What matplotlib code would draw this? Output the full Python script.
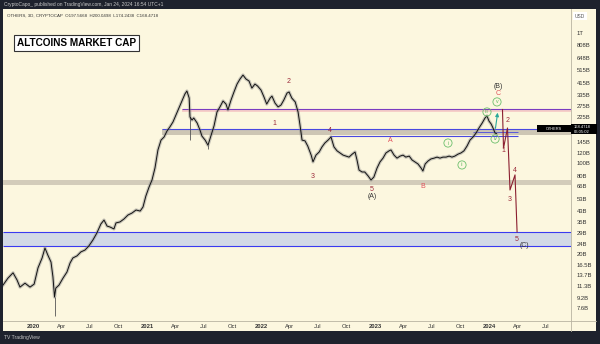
import numpy as np
import matplotlib
matplotlib.use("Agg")
import matplotlib.pyplot as plt
from matplotlib.patches import Rectangle, FancyArrowPatch

plt.rcParams["font.family"] = ["Liberation Sans", "DejaVu Sans"]

# ─── Data (market cap in billions USD, time in decimal years) ──────────
t_year = [
    2019.737, 2019.78, 2019.825, 2019.86, 2019.886, 2019.93, 2019.974, 2020.01,
    2020.044, 2020.08, 2020.105, 2020.13, 2020.158, 2020.175, 2020.189, 2020.20,
    2020.228, 2020.263, 2020.298, 2020.325, 2020.35, 2020.386, 2020.42, 2020.456,
    2020.49, 2020.526, 2020.56, 2020.596, 2020.623, 2020.65, 2020.675, 2020.71,
    2020.728, 2020.763, 2020.798, 2020.833, 2020.868, 2020.904, 2020.94, 2020.965,
    2020.99, 2021.018, 2021.044, 2021.07, 2021.096, 2021.123, 2021.15, 2021.175,
    2021.20, 2021.228, 2021.254, 2021.28, 2021.307, 2021.333, 2021.35, 2021.37,
    2021.377, 2021.395, 2021.41, 2021.44, 2021.465, 2021.482, 2021.51, 2021.535,
    2021.56, 2021.588, 2021.614, 2021.64, 2021.667, 2021.693, 2021.71, 2021.737,
    2021.763, 2021.79, 2021.816, 2021.842, 2021.868, 2021.895, 2021.92, 2021.947,
    2021.97, 2022.0, 2022.026, 2022.05, 2022.08, 2022.096, 2022.123, 2022.15,
    2022.175, 2022.2, 2022.228, 2022.246, 2022.27, 2022.3, 2022.325, 2022.342,
    2022.36, 2022.386, 2022.41, 2022.44, 2022.456, 2022.482, 2022.51, 2022.535,
    2022.56, 2022.588, 2022.614, 2022.64, 2022.667, 2022.693, 2022.72, 2022.746,
    2022.772, 2022.8, 2022.825, 2022.842, 2022.86, 2022.886, 2022.91, 2022.94,
    2022.965, 2022.99, 2023.018, 2023.044, 2023.07, 2023.096, 2023.123, 2023.14,
    2023.167, 2023.193, 2023.22, 2023.246, 2023.27, 2023.3, 2023.325, 2023.35,
    2023.377, 2023.404, 2023.42, 2023.44, 2023.465, 2023.49, 2023.518, 2023.544,
    2023.57, 2023.596, 2023.623, 2023.65, 2023.675, 2023.7, 2023.728, 2023.754,
    2023.78, 2023.807, 2023.833, 2023.86, 2023.886, 2023.912, 2023.94, 2023.965,
    2023.982, 2024.0, 2024.018, 2024.035, 2024.053, 2024.065,
]
mcap = [
    11.5, 13.0, 14.3, 12.6, 11.1, 11.9, 11.1, 11.7,
    15.6, 18.6, 22.2, 19.6, 17.3, 13.3, 9.3, 10.9,
    11.5, 13.0, 14.5, 17.0, 18.6, 19.3, 20.7, 21.4,
    23.0, 25.6, 28.9, 34.0, 36.4, 32.7, 32.2, 31.1,
    34.6, 35.2, 37.1, 39.8, 41.2, 43.5, 42.7, 45.9,
    55.7, 65.3, 74.0, 91.5, 126, 150, 158.6, 176,
    189, 207, 234, 265, 300, 340, 358, 316,
    226, 214, 222, 203, 179, 161, 150, 137,
    161, 193, 247, 270, 300, 284, 256, 305,
    352, 405, 443, 475, 443, 427, 377, 405,
    391, 364, 322, 284, 316, 327, 289, 270,
    279, 305, 345, 352, 316, 295, 247, 196,
    150, 148, 135, 115, 102, 115, 121.5, 133,
    142.5, 150, 158.6, 133, 124, 119.5, 115, 113,
    111, 117, 121.5, 105.5, 88.3, 85.3, 85.3, 79.4,
    74.0, 78.0, 91.5, 102, 109, 119.5, 124, 126,
    115, 109, 113, 115, 111, 113, 105.5, 102,
    98.3, 91.5, 86.8, 98.3, 103.6, 107.4, 109, 111,
    109, 111, 111, 113, 111, 113, 117, 119.5,
    124, 135, 150, 158.6, 170, 186, 203, 222,
    230, 210, 200, 186, 170, 168.5,
]

# long wicks (time, low, high)
wick_t = [2020.189, 2021.377, 2021.535]
wick_lo = [6.65, 150, 128]
wick_hi = [9.3, 226, 137]

# horizontal zones: (start time, low, high)
grey_zone_top = (2021.13, 164, 183)
red_zone = (2021.307, 247, 260)
grey_zone_low = (2019.737, 67.7, 74.0)
blue_zone = (2019.737, 23.0, 29.5)
level4_line = (2022.605, 2024.254, 161)
short_line = (2023.86, 2024.254, 174)

# projected path (red) and teal arrow
proj_t = [2024.118, 2024.127, 2024.162, 2024.184, 2024.228, 2024.246]
proj_v = [258, 130, 186, 62, 81, 29.5]
arrow_t = [2024.053, 2024.079]
arrow_v = [176, 256]

# wave labels: text, time, value, colour
wave_labels = [
    ("1", 2022.114, 203, "#9c2b3a"), ("2", 2022.246, 420, "#9c2b3a"),
    ("3", 2022.456, 79.4, "#9c2b3a"), ("4", 2022.605, 179, "#9c2b3a"),
    ("5", 2022.974, 62, "#9c2b3a"), ("(A)", 2022.974, 54.8, "#333333"),
    ("A", 2023.13, 150, "#e0505a"), ("B", 2023.42, 66.5, "#e0505a"),
    ("C", 2024.08, 345, "#e0505a"), ("(B)", 2024.08, 391, "#333333"),
    ("1", 2024.123, 124, "#9c2b3a"), ("2", 2024.167, 214, "#9c2b3a"),
    ("3", 2024.184, 52.8, "#9c2b3a"), ("4", 2024.228, 88.3, "#9c2b3a"),
    ("5", 2024.246, 26, "#9c2b3a"), ("(C)", 2024.307, 23, "#333333"),
]
circle_labels = [
    ("i", 2023.64, 142.5), ("ii", 2023.763, 96.6), ("iii", 2023.982, 247),
    ("iv", 2024.053, 153), ("v", 2024.07, 295),
]

y_ticks = [1000, 808, 648, 515, 415, 335, 275, 225, 145, 120, 100, 80, 66,
           53, 43, 35, 29, 24, 20, 16.5, 13.7, 11.3, 9.2, 7.6]
y_labels = ["1T", "808B", "648B", "515B", "415B", "335B", "275B", "225B",
            "145B", "120B", "100B", "80B", "66B", "53B", "43B", "35B", "29B",
            "24B", "20B", "16.5B", "13.7B", "11.3B", "9.2B", "7.6B"]
x_ticks = [2020, 2020.247, 2020.496, 2020.748, 2021, 2021.247, 2021.496, 2021.748,
           2022, 2022.247, 2022.496, 2022.748, 2023, 2023.247, 2023.496, 2023.748,
           2024, 2024.247, 2024.496]
x_labels = ["2020", "Apr", "Jul", "Oct", "2021", "Apr", "Jul", "Oct",
            "2022", "Apr", "Jul", "Oct", "2023", "Apr", "Jul", "Oct",
            "2024", "Apr", "Jul"]

# ─── Layout helpers (pixel → figure fraction) ─────────
W, H = 600, 344
BG = "#fcf7df"
DARK = "#1e222d"


def fx(x):
    return x / W


def fy(y):
    return 1 - y / H


fig = plt.figure(figsize=(6, 3.44), dpi=100, facecolor=DARK)
fig.patches.append(Rectangle((fx(3), fy(331)), fx(593), (331 - 9) / H,
                             transform=fig.transFigure, facecolor=BG,
                             edgecolor="none", zorder=-5))

ax = fig.add_axes([fx(3), fy(321), fx(568), (321 - 9) / H])
ax.set_facecolor(BG)
ax.set_yscale("log")
ax.set_xlim(2019.737, 2024.719)
ax.set_ylim(6.09, 1530)
for s in ax.spines.values():
    s.set_visible(False)
ax.minorticks_off()

xmax = 2024.719

# ─── Zones ───────────────────────────────────────────
ax.fill_between([red_zone[0], xmax], red_zone[1], red_zone[2], color="#f6cfc8", lw=0, zorder=1)
ax.hlines([red_zone[2]], red_zone[0], xmax, colors="#7a3cc0", lw=0.8, zorder=1.5)
ax.fill_between([grey_zone_top[0], xmax], grey_zone_top[1], grey_zone_top[2], color="#cdc6b4", lw=0, zorder=1)
ax.hlines([grey_zone_top[2]], grey_zone_top[0], xmax, colors="#4848e0", lw=0.8, zorder=1.5)
ax.fill_between([grey_zone_low[0], xmax], grey_zone_low[1], grey_zone_low[2], color="#d3ccba", lw=0, zorder=1)
ax.fill_between([blue_zone[0], xmax], blue_zone[1], blue_zone[2], color="#d2d9e6", lw=0, zorder=1)
ax.hlines([blue_zone[1], blue_zone[2]], blue_zone[0], xmax, colors="#3a3af0", lw=0.8, zorder=1.5)
ax.hlines([level4_line[2]], level4_line[0], level4_line[1], colors="#4848e0", lw=0.8, zorder=1.5)
ax.hlines([short_line[2]], short_line[0], short_line[1], colors="#4848e0", lw=0.6, zorder=1.5)

# ─── Price ───────────────────────────────────────────
ax.plot(t_year, mcap, color="#8a8a8a", lw=2.4, alpha=0.45, zorder=2)
ax.plot(t_year, mcap, color="#111111", lw=0.7, zorder=3)
ax.vlines(wick_t, wick_lo, wick_hi, colors="#555555", lw=0.6, zorder=2)

# projection
ax.plot(proj_t, proj_v, color="#8b1f30", lw=0.8, zorder=4)
ax.add_patch(FancyArrowPatch((arrow_t[0], arrow_v[0]), (arrow_t[1], arrow_v[1]),
                             arrowstyle="-|>", mutation_scale=5, color="#2aa89a",
                             lw=0.8, zorder=4))

for txt, t, v, c in wave_labels:
    ax.text(t, v, txt, color=c, fontsize=5, ha="center", va="center", zorder=5)
for txt, t, v in circle_labels:
    ax.text(t, v, txt, color="#5cb85c", fontsize=3.8, ha="center", va="center", zorder=5,
            bbox=dict(boxstyle="circle,pad=0.3", fc="none", ec="#6cbf6c", lw=0.6))

# ─── Ticks ───────────────────────────────────────────
ax.yaxis.tick_right()
ax.set_yticks(y_ticks)
ax.set_yticklabels(y_labels)
ax.tick_params(axis="y", length=0, pad=4, labelsize=4.2, labelcolor="#333333")
ax.set_xticks(x_ticks)
ax.set_xticklabels(x_labels)
ax.tick_params(axis="x", length=0, pad=2.5, labelsize=4.2, labelcolor="#333333")
for lab, txt in zip(ax.get_xticklabels(), x_labels):
    if txt.isdigit():
        lab.set_fontweight("bold")

# separators
fig.add_artist(plt.Line2D([fx(3), fx(596)], [fy(321), fy(321)], color="#b9b4a2", lw=0.6))
fig.add_artist(plt.Line2D([fx(571), fx(571)], [fy(9), fy(331)], color="#b9b4a2", lw=0.6))

# ─── Header / labels ─────────────────────────────────
fig.text(fx(4), fy(4.5), "CryptoCapo_ published on TradingView.com, Jan 24, 2024 16:54 UTC+1",
         color="#c8c8c8", fontsize=3.5, va="center")
fig.text(fx(7), fy(15.5), "OTHERS, 3D, CRYPTOCAP  O197.5668  H200.0498  L174.2438  C168.4718",
         color="#333333", fontsize=3.2, va="center")
fig.text(fx(17), fy(42.5), "ALTCOINS MARKET CAP", color="black", fontsize=7.2,
         fontweight="bold", va="center",
         bbox=dict(boxstyle="square,pad=0.3", fc="white", ec="#333333", lw=0.8))
fig.text(fx(575), fy(16), "USD", color="#555555", fontsize=3.5, va="center",
         bbox=dict(boxstyle="square,pad=0.35", fc="white", ec="none"))

# price label
fig.patches.append(Rectangle((fx(537), fy(131.5)), fx(34), 6 / H, transform=fig.transFigure,
                             facecolor="black", edgecolor="none", zorder=6))
fig.text(fx(554), fy(128.5), "OTHERS", color="white", fontsize=2.8, ha="center", va="center", zorder=7)
fig.patches.append(Rectangle((fx(571), fy(134.5)), fx(26), 10 / H, transform=fig.transFigure,
                             facecolor="black", edgecolor="none", zorder=6))
fig.text(fx(574), fy(127), "168.4718", color="white", fontsize=3, va="center", zorder=7)
fig.text(fx(574), fy(132), "06:05:02", color="white", fontsize=3, va="center", zorder=7)

fig.text(fx(4), fy(338), "TV TradingView", color="#c8c8c8", fontsize=3.6, va="center")

plt.savefig("out.png", dpi=100, facecolor=DARK)
